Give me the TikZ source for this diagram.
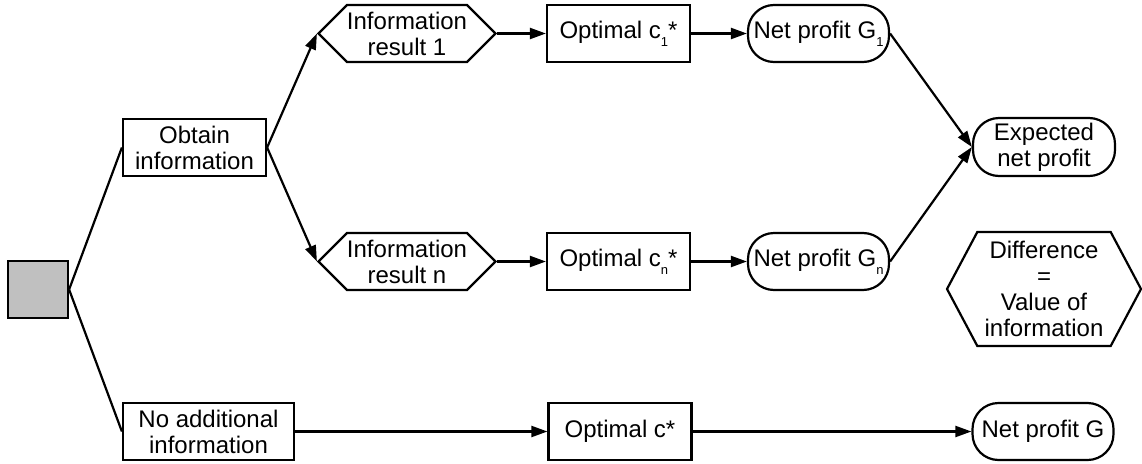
\documentclass[tikz,border=0pt]{standalone}
\usepackage{fontspec}
\setmainfont{Liberation Sans}
\usetikzlibrary{positioning, arrows.meta, shapes.symbols}

\definecolor{choicegray}{RGB}{192,192,192}
% small lowered index, as in c_1 and G_n
\newcommand{\idx}[1]{\raisebox{-8pt}{\fontsize{13}{13}\selectfont #1}}

\tikzset{
  every node/.style={font=\fontsize{24}{26}\selectfont, align=center, inner sep=0pt},
  box/.style={draw, rectangle, minimum width=143pt, minimum height=57pt},
  result/.style={draw, signal, signal to=west and east, signal pointer angle=90,
    minimum width=170pt, minimum height=57pt},
  profit/.style={draw, rectangle, rounded corners=26pt, minimum width=141pt, minimum height=57pt},
  flow/.style={-{Triangle[length=16pt,width=11pt]}}
}

\begin{document}
\begin{tikzpicture}[line width=2.2pt, on grid]
  \useasboundingbox (0,0) rectangle (1142pt,-463pt);

  \node[draw, fill=choicegray, minimum width=60pt, minimum height=57pt] (choice) at (38pt,-289.5pt) {};

  \node[box] (obtain) [above right=142pt and 156.5pt of choice] {Obtain\\information};
  \node[box, minimum width=171pt] (noinfo) [below right=142pt and 170.5pt of choice] {No additional\\information};

  \node[result] (info1) [above right=114pt and 212.5pt of obtain] {Information\\result 1};
  \node[result] (infon) [below right=114pt and 212.5pt of obtain] {Information\\result n};

  \node[box] (opt1) [right=211.5pt of info1] {Optimal c\idx{1}*};
  \node[box] (optn) [right=211.5pt of infon] {Optimal c\idx{n}*};
  \node[box] (opt)  [right=411.5pt of noinfo] {Optimal c*};

  \node[profit] (np1) [right=200pt of opt1] {Net profit G\idx{1}};
  \node[profit] (npn) [right=200pt of optn] {Net profit G\idx{n}};
  \node[profit] (np)  [right=423pt of opt] {Net profit G};

  \node[profit, minimum width=142pt, minimum height=58pt] (expected) [below right=113.5pt and 225.5pt of np1] {Expected\\net profit};
  \node[draw, signal, signal to=west and east, signal pointer angle=124,
    minimum width=194pt, minimum height=114pt] (diff) [below=142pt of expected] {Difference\\=\\Value of\\information};

  % branches of the decision
  \draw (choice.east) -- (obtain.west);
  \draw (choice.east) -- (noinfo.west);
  \draw[flow] (obtain.east) -- (info1.west);
  \draw[flow] (obtain.east) -- (infon.west);

  \draw[flow] (info1.east) -- (opt1.west);
  \draw[flow] (infon.east) -- (optn.west);
  \draw[flow] (opt1.east) -- (np1.west);
  \draw[flow] (optn.east) -- (npn.west);
  \draw[flow] (np1.east) -- (expected.west);
  \draw[flow] (npn.east) -- (expected.west);

  \draw[flow] (noinfo.east) -- (opt.west);
  \draw[flow] (opt.east) -- (np.west);
\end{tikzpicture}
\end{document}
